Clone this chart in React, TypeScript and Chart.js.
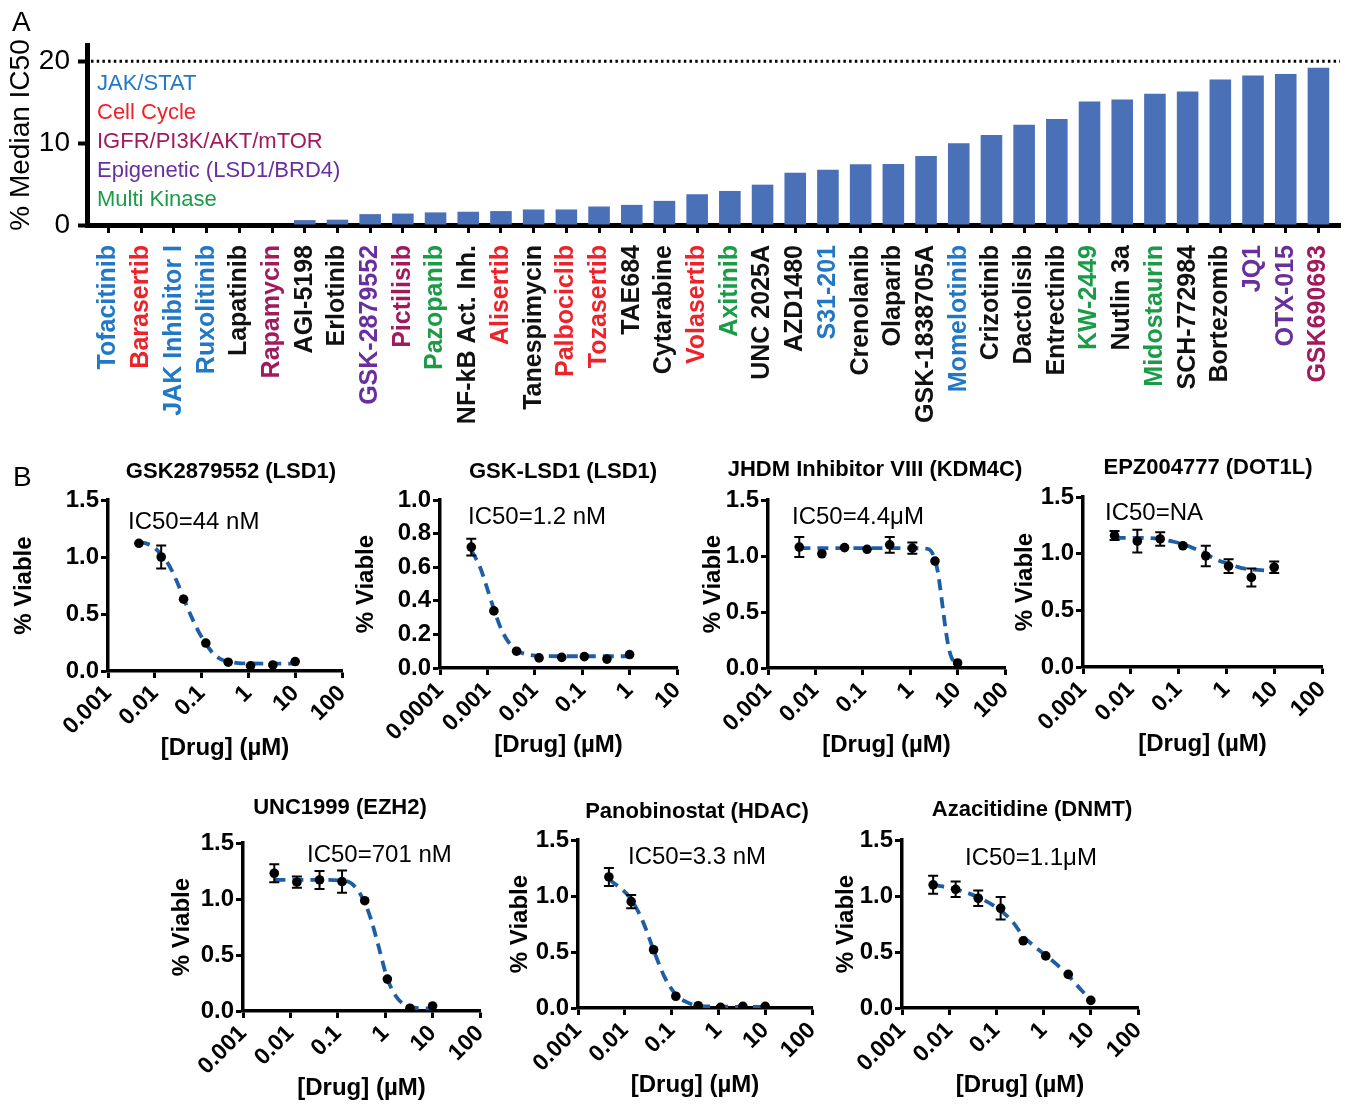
import React, { useEffect, useRef } from 'react';
import { Chart, registerables } from 'chart.js';

Chart.register(...registerables);

const FONT = '"Liberation Sans", Arial, Helvetica, sans-serif';
Chart.defaults.font.family = FONT;
Chart.defaults.color = '#000';

// ---------------- Panel A data ----------------
const drugs = [
  'Tofacitinib', 'Barasertib', 'JAK Inhibitor I', 'Ruxolitinib', 'Lapatinib', 'Rapamycin',
  'AGI-5198', 'Erlotinib', 'GSK-2879552', 'Pictilisib', 'Pazopanib', 'NF-kB Act. Inh.',
  'Alisertib', 'Tanespimycin', 'Palbociclib', 'Tozasertib', 'TAE684', 'Cytarabine',
  'Volasertib', 'Axitinib', 'UNC 2025A', 'AZD1480', 'S31-201', 'Crenolanib', 'Olaparib',
  'GSK-1838705A', 'Momelotinib', 'Crizotinib', 'Dactolisib', 'Entrectinib', 'KW-2449',
  'Nutlin 3a', 'Midostaurin', 'SCH-772984', 'Bortezomib', 'JQ1', 'OTX-015', 'GSK690693',
];
const medianIC50 = [
  0, 0, 0, 0, 0, 0,
  0.6, 0.65, 1.33, 1.4, 1.54, 1.62,
  1.7, 1.9, 1.9, 2.26, 2.46, 2.95,
  3.76, 4.16, 4.93, 6.38, 6.75, 7.43, 7.47,
  8.44, 10.0, 11.0, 12.24, 12.97, 15.1,
  15.35, 16.04, 16.32, 17.78, 18.26, 18.46, 19.23,
];
const drugClass = [
  'jak', 'cc', 'jak', 'jak', 'none', 'pi3k',
  'none', 'none', 'epi', 'pi3k', 'mk', 'none',
  'cc', 'none', 'cc', 'cc', 'none', 'none',
  'cc', 'mk', 'none', 'none', 'jak', 'none', 'none',
  'none', 'jak', 'none', 'none', 'none', 'mk',
  'none', 'mk', 'none', 'none', 'epi', 'epi', 'pi3k',
];
const classKeys = ['jak', 'cc', 'pi3k', 'epi', 'mk'];
const classNames = ['JAK/STAT', 'Cell Cycle', 'IGFR/PI3K/AKT/mTOR', 'Epigenetic (LSD1/BRD4)', 'Multi Kinase'];
const yTicksA = [0, 10, 20];
const ic50Threshold = 20;

// ---------------- Panel B data ----------------
const doses10 = [0.00457, 0.0137, 0.0412, 0.123, 0.37, 1.11, 3.33, 10];
const doses1 = [0.000457, 0.00137, 0.00412, 0.0123, 0.037, 0.111, 0.333, 1];
const decTicks = [0.001, 0.01, 0.1, 1, 10, 100];
const decTicksLow = [0.0001, 0.001, 0.01, 0.1, 1, 10];

const gskViab = [1.12, 1.0, 0.63, 0.245, 0.077, 0.045, 0.053, 0.083];
const gskErr = [0.02, 0.1, 0.03, 0.01, 0.01, 0.005, 0.005, 0.01];
const gskFitX = [0.0046, 0.007, 0.01, 0.0137, 0.02, 0.03, 0.041, 0.06, 0.085, 0.123, 0.18, 0.27, 0.37, 0.6, 1.1, 3.3, 10];
const gskFitY = [1.13, 1.115, 1.08, 1.02, 0.93, 0.78, 0.64, 0.48, 0.35, 0.24, 0.15, 0.1, 0.085, 0.07, 0.066, 0.065, 0.065];

const lsdViab = [0.72, 0.34, 0.1, 0.06, 0.063, 0.068, 0.053, 0.08];
const lsdErr = [0.05, 0.025, 0.01, 0.005, 0.005, 0.005, 0.005, 0.005];
const lsdFitX = [0.00046, 0.0007, 0.001, 0.00137, 0.0019, 0.0027, 0.0041, 0.006, 0.009, 0.0123, 0.04, 0.11, 0.33, 1];
const lsdFitY = [0.7, 0.6, 0.47, 0.35, 0.24, 0.16, 0.105, 0.085, 0.075, 0.072, 0.07, 0.07, 0.07, 0.07];

const jhdmViab = [1.08, 1.02, 1.075, 1.06, 1.1, 1.07, 0.955, 0.045];
const jhdmErr = [0.09, 0.04, 0.01, 0.01, 0.07, 0.05, 0.035, 0.01];
const jhdmFitX = [0.0046, 0.1, 1, 2.2, 2.8, 3.3, 3.9, 4.4, 5.0, 5.7, 6.5, 7.5, 8.7, 10];
const jhdmFitY = [1.07, 1.07, 1.07, 1.065, 1.04, 0.97, 0.84, 0.68, 0.5, 0.32, 0.18, 0.09, 0.055, 0.04];

const epzViab = [1.16, 1.11, 1.13, 1.07, 0.98, 0.89, 0.79, 0.88];
const epzErr = [0.04, 0.1, 0.06, 0.03, 0.09, 0.06, 0.08, 0.05];
const epzFitX = [0.0046, 0.0137, 0.041, 0.07, 0.123, 0.2, 0.37, 0.6, 1.11, 2, 3.33, 10];
const epzFitY = [1.14, 1.14, 1.13, 1.11, 1.085, 1.05, 1.0, 0.95, 0.91, 0.875, 0.86, 0.85];

const uncViab = [1.23, 1.15, 1.17, 1.155, 0.985, 0.285, 0.025, 0.045];
const uncErr = [0.08, 0.05, 0.08, 0.1, 0.04, 0.01, 0.005, 0.01];
const uncFitX = [0.0046, 0.05, 0.15, 0.23, 0.37, 0.5, 0.7, 1.11, 1.7, 2.3, 3.33, 10];
const uncFitY = [1.17, 1.17, 1.16, 1.11, 0.97, 0.82, 0.6, 0.29, 0.13, 0.07, 0.035, 0.022];

const panoViab = [1.17, 0.95, 0.52, 0.105, 0.02, 0.006, 0.015, 0.015];
const panoErr = [0.08, 0.06, 0.01, 0.01, 0.005, 0.005, 0.005, 0.005];
const panoFitX = [0.0046, 0.0137, 0.025, 0.041, 0.07, 0.123, 0.23, 0.37, 1.11, 10];
const panoFitY = [1.15, 0.97, 0.76, 0.52, 0.28, 0.12, 0.045, 0.02, 0.012, 0.01];

const azaViab = [1.1, 1.06, 0.98, 0.89, 0.6, 0.465, 0.3, 0.068];
const azaErr = [0.08, 0.07, 0.07, 0.1, 0.03, 0.01, 0.01, 0.005];
const azaFitX = [0.0046, 0.0137, 0.041, 0.123, 0.23, 0.37, 0.6, 1.11, 2, 3.33, 6, 10];
const azaFitY = [1.1, 1.06, 0.99, 0.87, 0.76, 0.64, 0.56, 0.47, 0.38, 0.29, 0.17, 0.07];

const doseSpecs = [
  { title: 'GSK2879552 (LSD1)', ic50: 'IC50=44 nM', doses: doses10, viab: gskViab, err: gskErr, fitX: gskFitX, fitY: gskFitY, xTicks: decTicks, yMax: 1.5, yStep: 0.5 },
  { title: 'GSK-LSD1 (LSD1)', ic50: 'IC50=1.2 nM', doses: doses1, viab: lsdViab, err: lsdErr, fitX: lsdFitX, fitY: lsdFitY, xTicks: decTicksLow, yMax: 1.0, yStep: 0.2 },
  { title: 'JHDM Inhibitor VIII (KDM4C)', ic50: 'IC50=4.4\u03bcM', doses: doses10, viab: jhdmViab, err: jhdmErr, fitX: jhdmFitX, fitY: jhdmFitY, xTicks: decTicks, yMax: 1.5, yStep: 0.5 },
  { title: 'EPZ004777 (DOT1L)', ic50: 'IC50=NA', doses: doses10, viab: epzViab, err: epzErr, fitX: epzFitX, fitY: epzFitY, xTicks: decTicks, yMax: 1.5, yStep: 0.5 },
  { title: 'UNC1999 (EZH2)', ic50: 'IC50=701 nM', doses: doses10, viab: uncViab, err: uncErr, fitX: uncFitX, fitY: uncFitY, xTicks: decTicks, yMax: 1.5, yStep: 0.5 },
  { title: 'Panobinostat (HDAC)', ic50: 'IC50=3.3 nM', doses: doses10, viab: panoViab, err: panoErr, fitX: panoFitX, fitY: panoFitY, xTicks: decTicks, yMax: 1.5, yStep: 0.5 },
  { title: 'Azacitidine (DNMT)', ic50: 'IC50=1.1\u03bcM', doses: doses10, viab: azaViab, err: azaErr, fitX: azaFitX, fitY: azaFitY, xTicks: decTicks, yMax: 1.5, yStep: 0.5 },
];

// ---------------- Layout / styles ----------------
const classColors: Record<string, string> = {
  jak: '#2078c6', cc: '#ef2129', pi3k: '#a21a5e', epi: '#6a2f9f', mk: '#1a9c47', none: '#111111',
};
const BAR_COLOR = '#4a70b7';
const FIT_COLOR = '#1d5ea6';

const doseLayout = [
  { axisX: 108, areaTop: 500, areaH: 171, areaW: 234, yGap: 84, titleDx: 123, titleDy: 28, icDx: 20, icDy: 22 },
  { axisX: 440, areaTop: 500, areaH: 168, areaW: 237, yGap: 74, titleDx: 123, titleDy: 28, icDx: 28, icDy: 17 },
  { axisX: 768, areaTop: 500, areaH: 168, areaW: 237, yGap: 55, titleDx: 107, titleDy: 30, icDx: 24, icDy: 17 },
  { axisX: 1083, areaTop: 497, areaH: 170, areaW: 239, yGap: 58, titleDx: 125, titleDy: 29, icDx: 22, icDy: 16 },
  { axisX: 243, areaTop: 843, areaH: 168, areaW: 237, yGap: 61, titleDx: 97, titleDy: 35, icDx: 64, icDy: 12 },
  { axisX: 578, areaTop: 840, areaH: 168, areaW: 234, yGap: 58, titleDx: 119, titleDy: 28, icDx: 50, icDy: 17 },
  { axisX: 902, areaTop: 840, areaH: 168, areaW: 236, yGap: 56, titleDx: 130, titleDy: 30, icDx: 63, icDy: 18 },
];

const bold = (s: number) => ({ family: FONT, size: s, weight: 'bold' as const });

function PanelA() {
  const ref = useRef<HTMLCanvasElement>(null);
  const W = 1350;
  const H = 445;
  useEffect(() => {
    const deco = {
      id: 'panelADeco',
      afterDraw(chart: any) {
        const { ctx, chartArea, scales } = chart;
        ctx.save();
        const yy = scales.y.getPixelForValue(ic50Threshold);
        ctx.strokeStyle = '#000';
        ctx.lineWidth = 3;
        ctx.setLineDash([2.5, 3.2]);
        ctx.beginPath();
        ctx.moveTo(chartArea.left + 4, yy);
        ctx.lineTo(chartArea.right, yy);
        ctx.stroke();
        ctx.setLineDash([]);
        ctx.font = `22px ${FONT}`;
        ctx.textAlign = 'left';
        ctx.textBaseline = 'middle';
        classNames.forEach((n, i) => {
          ctx.fillStyle = classColors[classKeys[i]];
          ctx.fillText(n, chartArea.left + 10, 84 + i * 29);
        });
        ctx.restore();
      },
    };
    const chart = new Chart(ref.current as HTMLCanvasElement, {
      type: 'bar',
      data: {
        datasets: [
          {
            data: medianIC50.map((v, i) => ({ x: i, y: v })),
            backgroundColor: BAR_COLOR,
            borderWidth: 0,
            barPercentage: 0.66,
            categoryPercentage: 1,
          } as any,
        ],
      },
      options: {
        responsive: false,
        animation: false,
        devicePixelRatio: 1,
        layout: { padding: { top: 45, right: 10, left: 0, bottom: 0 } },
        plugins: { legend: { display: false }, tooltip: { enabled: false } },
        scales: {
          x: {
            type: 'linear',
            offset: false,
            min: -0.66,
            max: drugs.length - 1 + 0.66,
            afterBuildTicks: (s: any) => { s.ticks = drugs.map((_, i) => ({ value: i })); },
            afterFit: (s: any) => { s.height = 220; s.paddingLeft = 0; s.paddingRight = 0; },
            ticks: {
              autoSkip: false,
              minRotation: 90,
              maxRotation: 90,
              padding: 12,
              font: bold(25),
              callback: (_v: any, i: number) => drugs[i],
              color: (c: any) => classColors[drugClass[c.index]] || '#111',
            },
            grid: { display: true, offset: false, drawOnChartArea: false, drawTicks: true, tickLength: 8, tickWidth: 3, tickColor: '#000' },
            border: { display: true, width: 5, color: '#000' },
          } as any,
          y: {
            type: 'linear',
            min: 0,
            max: 22,
            afterFit: (s: any) => { s.width = 87; },
            afterBuildTicks: (s: any) => { s.ticks = yTicksA.map((v) => ({ value: v })); },
            ticks: { font: { family: FONT, size: 28 }, color: '#000', padding: 8 },
            grid: { display: true, drawOnChartArea: false, drawTicks: true, tickLength: 9, tickWidth: 4, tickColor: '#000' },
            border: { display: true, width: 5, color: '#000' },
            title: { display: true, text: '% Median IC50', font: { family: FONT, size: 28 }, color: '#000', padding: { top: 4, bottom: 0 } },
          } as any,
        },
      },
      plugins: [deco],
    });
    return () => chart.destroy();
  }, []);
  return <canvas ref={ref} width={W} height={H} style={{ position: 'absolute', left: 0, top: 0, width: W, height: H }} />;
}

function DoseChart({ spec, lay }: { spec: any; lay: any }) {
  const ref = useRef<HTMLCanvasElement>(null);
  const yW = lay.yGap + 18;
  const padTop = 62;
  const padRight = 28;
  const xH = 100;
  const width = yW + lay.areaW + padRight;
  const height = padTop + lay.areaH + xH;
  useEffect(() => {
    const axisGrid = { display: true, drawOnChartArea: false, drawTicks: true, tickLength: 7, tickWidth: 3, tickColor: '#000' };
    const deco = {
      id: 'doseDeco',
      afterDatasetsDraw(chart: any) {
        const { ctx, scales } = chart;
        ctx.save();
        ctx.strokeStyle = '#000';
        ctx.lineWidth = 2;
        spec.doses.forEach((d: number, i: number) => {
          const e = spec.err[i];
          const px = scales.x.getPixelForValue(d);
          const y1 = scales.y.getPixelForValue(spec.viab[i] + e);
          const y2 = scales.y.getPixelForValue(Math.max(0, spec.viab[i] - e));
          if (Math.abs(y2 - y1) < 9) return;
          ctx.beginPath();
          ctx.moveTo(px, y1); ctx.lineTo(px, y2);
          ctx.moveTo(px - 5, y1); ctx.lineTo(px + 5, y1);
          ctx.moveTo(px - 5, y2); ctx.lineTo(px + 5, y2);
          ctx.stroke();
        });
        ctx.restore();
      },
      afterDraw(chart: any) {
        const { ctx, chartArea } = chart;
        ctx.save();
        ctx.fillStyle = '#000';
        ctx.textBaseline = 'middle';
        ctx.textAlign = 'center';
        ctx.font = `bold 22px ${FONT}`;
        ctx.fillText(spec.title, chartArea.left + lay.titleDx, chartArea.top - lay.titleDy);
        ctx.textAlign = 'left';
        ctx.font = `24px ${FONT}`;
        ctx.fillText(spec.ic50, chartArea.left + lay.icDx, chartArea.top + lay.icDy);
        ctx.restore();
      },
    };
    const chart = new Chart(ref.current as HTMLCanvasElement, {
      type: 'scatter',
      data: {
        datasets: [
          {
            type: 'scatter',
            data: spec.doses.map((d: number, i: number) => ({ x: d, y: spec.viab[i] })),
            pointRadius: 4.8,
            pointBackgroundColor: '#000',
            backgroundColor: '#000',
            pointBorderWidth: 0,
          },
          {
            type: 'line',
            data: spec.fitX.map((d: number, i: number) => ({ x: d, y: spec.fitY[i] })),
            borderColor: FIT_COLOR,
            borderWidth: 3.8,
            borderDash: [11, 7],
            pointRadius: 0,
            fill: false,
            cubicInterpolationMode: 'monotone',
          },
        ] as any,
      },
      options: {
        responsive: false,
        animation: false,
        devicePixelRatio: 1,
        layout: { padding: { top: padTop, right: padRight, left: 0, bottom: 0 } },
        plugins: { legend: { display: false }, tooltip: { enabled: false } },
        scales: {
          x: {
            type: 'logarithmic',
            min: spec.xTicks[0],
            max: spec.xTicks[spec.xTicks.length - 1],
            afterBuildTicks: (s: any) => { s.ticks = spec.xTicks.map((v: number) => ({ value: v })); },
            afterFit: (s: any) => { s.height = xH; },
            ticks: { autoSkip: false, minRotation: 45, maxRotation: 45, padding: 2, font: bold(23), color: '#000', callback: (v: any) => String(v) },
            grid: axisGrid,
            border: { display: true, width: 3.5, color: '#000' },
            title: { display: true, text: '[Drug] (\u00b5M)', font: bold(24), color: '#000', padding: { top: 0, bottom: 8 } },
          } as any,
          y: {
            type: 'linear',
            min: 0,
            max: spec.yMax,
            afterFit: (s: any) => { s.width = yW; },
            ticks: { stepSize: spec.yStep, includeBounds: false, padding: 2, font: bold(24), color: '#000', callback: (v: any) => Number(v).toFixed(1) },
            grid: axisGrid,
            border: { display: true, width: 3.5, color: '#000' },
            title: { display: true, text: '% Viable', font: bold(24), color: '#000', padding: { top: 4, bottom: 0 } },
          } as any,
        },
      },
      plugins: [deco],
    });
    return () => chart.destroy();
  }, []);
  return (
    <canvas
      ref={ref}
      width={width}
      height={height}
      style={{ position: 'absolute', left: lay.axisX - yW, top: lay.areaTop - padTop, width, height }}
    />
  );
}

export default function App() {
  const letter: React.CSSProperties = { position: 'absolute', fontFamily: FONT, fontSize: 28, lineHeight: 1, color: '#000' };
  return (
    <div style={{ position: 'absolute', left: 0, top: 0, width: 1350, height: 1105, background: '#fff', overflow: 'hidden' }}>
      <PanelA />
      {doseSpecs.map((s, i) => (
        <DoseChart key={i} spec={s} lay={doseLayout[i]} />
      ))}
      <div style={{ ...letter, left: 12, top: 8 }}>A</div>
      <div style={{ ...letter, left: 13, top: 463 }}>B</div>
    </div>
  );
}
